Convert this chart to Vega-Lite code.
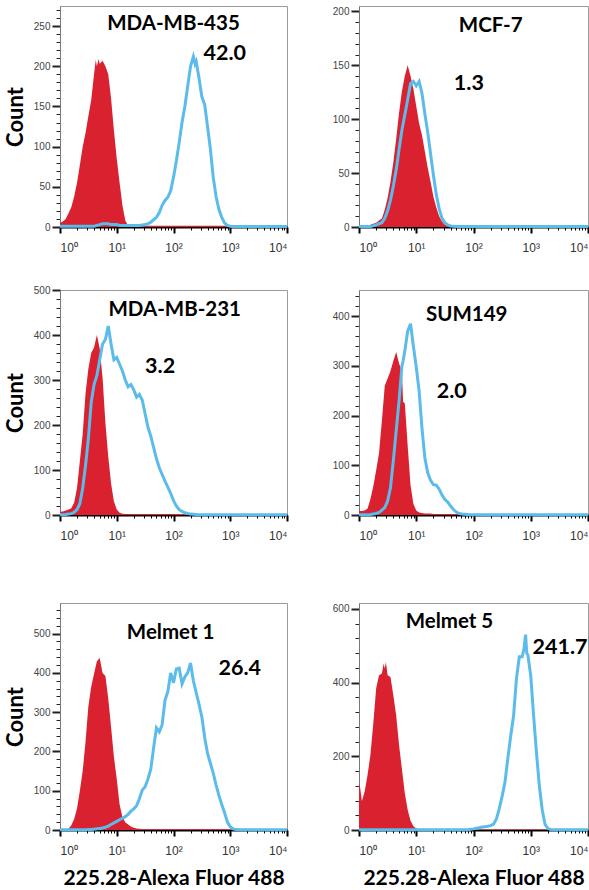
{
"$schema": "https://vega.github.io/schema/vega-lite/v6.json",
"background": "white",
"padding": {"left": 3, "top": 4, "right": 2, "bottom": 2},
"autosize": {"type": "pad"},
"config": {"view": {"stroke": "#9a9a9a", "strokeWidth": 1}, "axis": {"grid": false}},
"datasets": {
"hist": [
{"p":"MDA-MB-435","x":1,"r":5,"b":1},{"p":"MDA-MB-435","x":1.122,"r":7,"b":1},{"p":"MDA-MB-435","x":1.259,"r":10,"b":1},{"p":"MDA-MB-435","x":1.413,"r":17,"b":1},{"p":"MDA-MB-435","x":1.585,"r":25,"b":1},{"p":"MDA-MB-435","x":1.778,"r":38,"b":1},{"p":"MDA-MB-435","x":1.995,"r":55,"b":1},{"p":"MDA-MB-435","x":2.239,"r":77,"b":1},{"p":"MDA-MB-435","x":2.512,"r":100,"b":1},{"p":"MDA-MB-435","x":2.818,"r":117,"b":1},{"p":"MDA-MB-435","x":3.162,"r":138,"b":1},{"p":"MDA-MB-435","x":3.548,"r":158,"b":1},{"p":"MDA-MB-435","x":3.981,"r":190,"b":1},{"p":"MDA-MB-435","x":4.266,"r":208,"b":1.5},{"p":"MDA-MB-435","x":4.467,"r":200,"b":2},{"p":"MDA-MB-435","x":4.786,"r":209,"b":2.5},{"p":"MDA-MB-435","x":5.012,"r":203,"b":3},{"p":"MDA-MB-435","x":5.623,"r":207,"b":4},{"p":"MDA-MB-435","x":6.31,"r":200,"b":4},{"p":"MDA-MB-435","x":7.079,"r":190,"b":4},{"p":"MDA-MB-435","x":7.943,"r":160,"b":3},{"p":"MDA-MB-435","x":8.913,"r":120,"b":3},{"p":"MDA-MB-435","x":10,"r":85,"b":3},{"p":"MDA-MB-435","x":11.22,"r":55,"b":2},{"p":"MDA-MB-435","x":12.59,"r":27,"b":2},{"p":"MDA-MB-435","x":14.13,"r":8,"b":2},{"p":"MDA-MB-435","x":15.85,"r":2,"b":2},{"p":"MDA-MB-435","x":17.78,"r":1.5,"b":2},{"p":"MDA-MB-435","x":19.95,"r":1.5,"b":2},{"p":"MDA-MB-435","x":25.12,"r":1.5,"b":2},{"p":"MDA-MB-435","x":31.62,"r":1.5,"b":3},{"p":"MDA-MB-435","x":35.48,"r":1.5,"b":4},{"p":"MDA-MB-435","x":39.81,"r":1.5,"b":6},{"p":"MDA-MB-435","x":44.67,"r":1.5,"b":9},{"p":"MDA-MB-435","x":50.12,"r":1.5,"b":12},{"p":"MDA-MB-435","x":56.23,"r":1.5,"b":18},{"p":"MDA-MB-435","x":63.1,"r":1.5,"b":27},{"p":"MDA-MB-435","x":70.79,"r":1.5,"b":33},{"p":"MDA-MB-435","x":79.43,"r":1.5,"b":37},{"p":"MDA-MB-435","x":89.13,"r":1.5,"b":45},{"p":"MDA-MB-435","x":100,"r":1.5,"b":62},{"p":"MDA-MB-435","x":112.2,"r":1.5,"b":82},{"p":"MDA-MB-435","x":125.9,"r":1.5,"b":105},{"p":"MDA-MB-435","x":141.3,"r":1.5,"b":130},{"p":"MDA-MB-435","x":158.5,"r":1.5,"b":150},{"p":"MDA-MB-435","x":177.8,"r":1.5,"b":175},{"p":"MDA-MB-435","x":199.5,"r":1.5,"b":200},{"p":"MDA-MB-435","x":223.9,"r":1.5,"b":212},{"p":"MDA-MB-435","x":239.9,"r":1.5,"b":203},{"p":"MDA-MB-435","x":251.2,"r":1.5,"b":206},{"p":"MDA-MB-435","x":281.8,"r":1.5,"b":185},{"p":"MDA-MB-435","x":316.2,"r":1.5,"b":162},{"p":"MDA-MB-435","x":354.8,"r":1.5,"b":152},{"p":"MDA-MB-435","x":398.1,"r":1.5,"b":125},{"p":"MDA-MB-435","x":446.7,"r":1.5,"b":97},{"p":"MDA-MB-435","x":501.2,"r":1.5,"b":62},{"p":"MDA-MB-435","x":562.3,"r":1.5,"b":38},{"p":"MDA-MB-435","x":631,"r":1.5,"b":22},{"p":"MDA-MB-435","x":707.9,"r":1.5,"b":12},{"p":"MDA-MB-435","x":794.3,"r":1.5,"b":5},{"p":"MDA-MB-435","x":891.3,"r":1.5,"b":2},{"p":"MDA-MB-435","x":1000,"r":1,"b":1},{"p":"MDA-MB-435","x":1122,"r":0,"b":0.5},{"p":"MDA-MB-435","x":10000,"r":0,"b":0.5},

{"p":"MCF-7","x":1,"r":0,"b":0.5},{"p":"MCF-7","x":1.259,"r":0.5,"b":0.5},{"p":"MCF-7","x":1.413,"r":1,"b":0.5},{"p":"MCF-7","x":1.585,"r":2,"b":0.5},{"p":"MCF-7","x":1.778,"r":3,"b":1},{"p":"MCF-7","x":1.995,"r":4,"b":2},{"p":"MCF-7","x":2.239,"r":6,"b":3},{"p":"MCF-7","x":2.512,"r":8,"b":4},{"p":"MCF-7","x":2.818,"r":16,"b":8},{"p":"MCF-7","x":3.162,"r":27,"b":15},{"p":"MCF-7","x":3.548,"r":42,"b":25},{"p":"MCF-7","x":3.981,"r":60,"b":38},{"p":"MCF-7","x":4.467,"r":82,"b":53},{"p":"MCF-7","x":5.012,"r":106,"b":72},{"p":"MCF-7","x":5.623,"r":126,"b":90},{"p":"MCF-7","x":6.31,"r":140,"b":104},{"p":"MCF-7","x":7.079,"r":150,"b":118},{"p":"MCF-7","x":7.943,"r":140,"b":133},{"p":"MCF-7","x":8.913,"r":128,"b":135},{"p":"MCF-7","x":10,"r":112,"b":131},{"p":"MCF-7","x":11.22,"r":96,"b":135},{"p":"MCF-7","x":12.59,"r":85,"b":124},{"p":"MCF-7","x":14.13,"r":70,"b":105},{"p":"MCF-7","x":15.85,"r":55,"b":88},{"p":"MCF-7","x":17.78,"r":42,"b":68},{"p":"MCF-7","x":19.95,"r":28,"b":48},{"p":"MCF-7","x":22.39,"r":18,"b":30},{"p":"MCF-7","x":25.12,"r":10,"b":17},{"p":"MCF-7","x":28.18,"r":5,"b":8},{"p":"MCF-7","x":31.62,"r":2,"b":4},{"p":"MCF-7","x":35.48,"r":1,"b":2},{"p":"MCF-7","x":39.81,"r":0,"b":1},{"p":"MCF-7","x":50.12,"r":0,"b":0.5},{"p":"MCF-7","x":10000,"r":0,"b":0.5},

{"p":"MDA-MB-231","x":1,"r":7,"b":0.5},{"p":"MDA-MB-231","x":1.122,"r":8,"b":0.5},{"p":"MDA-MB-231","x":1.259,"r":10,"b":1},{"p":"MDA-MB-231","x":1.413,"r":12,"b":2},{"p":"MDA-MB-231","x":1.585,"r":15,"b":3},{"p":"MDA-MB-231","x":1.778,"r":28,"b":6},{"p":"MDA-MB-231","x":1.995,"r":60,"b":12},{"p":"MDA-MB-231","x":2.239,"r":120,"b":25},{"p":"MDA-MB-231","x":2.512,"r":180,"b":60},{"p":"MDA-MB-231","x":2.818,"r":270,"b":110},{"p":"MDA-MB-231","x":3.162,"r":325,"b":170},{"p":"MDA-MB-231","x":3.548,"r":360,"b":250},{"p":"MDA-MB-231","x":3.981,"r":372,"b":290},{"p":"MDA-MB-231","x":4.467,"r":400,"b":310},{"p":"MDA-MB-231","x":5.012,"r":370,"b":345},{"p":"MDA-MB-231","x":5.623,"r":305,"b":380},{"p":"MDA-MB-231","x":6.31,"r":205,"b":390},{"p":"MDA-MB-231","x":7.079,"r":130,"b":420},{"p":"MDA-MB-231","x":7.943,"r":70,"b":380},{"p":"MDA-MB-231","x":8.913,"r":30,"b":345},{"p":"MDA-MB-231","x":10,"r":12,"b":350},{"p":"MDA-MB-231","x":11.22,"r":5,"b":335},{"p":"MDA-MB-231","x":12.59,"r":3,"b":320},{"p":"MDA-MB-231","x":14.13,"r":2,"b":300},{"p":"MDA-MB-231","x":15.85,"r":2,"b":285},{"p":"MDA-MB-231","x":17.78,"r":2,"b":290},{"p":"MDA-MB-231","x":19.95,"r":2,"b":278},{"p":"MDA-MB-231","x":22.39,"r":2,"b":262},{"p":"MDA-MB-231","x":25.12,"r":2,"b":268},{"p":"MDA-MB-231","x":28.18,"r":2,"b":255},{"p":"MDA-MB-231","x":31.62,"r":2,"b":225},{"p":"MDA-MB-231","x":35.48,"r":2,"b":195},{"p":"MDA-MB-231","x":39.81,"r":2,"b":175},{"p":"MDA-MB-231","x":44.67,"r":2,"b":150},{"p":"MDA-MB-231","x":50.12,"r":2,"b":125},{"p":"MDA-MB-231","x":56.23,"r":2,"b":105},{"p":"MDA-MB-231","x":63.1,"r":2,"b":90},{"p":"MDA-MB-231","x":70.79,"r":2,"b":75},{"p":"MDA-MB-231","x":79.43,"r":2,"b":62},{"p":"MDA-MB-231","x":89.13,"r":2,"b":48},{"p":"MDA-MB-231","x":100,"r":2,"b":32},{"p":"MDA-MB-231","x":112.2,"r":2,"b":20},{"p":"MDA-MB-231","x":125.9,"r":2,"b":12},{"p":"MDA-MB-231","x":141.3,"r":2,"b":8},{"p":"MDA-MB-231","x":158.5,"r":1,"b":5},{"p":"MDA-MB-231","x":199.5,"r":0,"b":2},{"p":"MDA-MB-231","x":251.2,"r":0,"b":1},{"p":"MDA-MB-231","x":316.2,"r":0,"b":0.5},{"p":"MDA-MB-231","x":10000,"r":0,"b":0.5},

{"p":"SUM149","x":1,"r":8,"b":0.5},{"p":"SUM149","x":1.122,"r":8,"b":0.5},{"p":"SUM149","x":1.259,"r":9,"b":0.5},{"p":"SUM149","x":1.413,"r":13,"b":0.5},{"p":"SUM149","x":1.585,"r":32,"b":1},{"p":"SUM149","x":1.778,"r":58,"b":2},{"p":"SUM149","x":1.995,"r":90,"b":3},{"p":"SUM149","x":2.239,"r":125,"b":5},{"p":"SUM149","x":2.512,"r":190,"b":10},{"p":"SUM149","x":2.818,"r":260,"b":15},{"p":"SUM149","x":3.162,"r":275,"b":28},{"p":"SUM149","x":3.548,"r":290,"b":55},{"p":"SUM149","x":3.981,"r":310,"b":110},{"p":"SUM149","x":4.467,"r":328,"b":170},{"p":"SUM149","x":5.012,"r":305,"b":230},{"p":"SUM149","x":5.623,"r":290,"b":300},{"p":"SUM149","x":5.888,"r":228,"b":310},{"p":"SUM149","x":6.31,"r":225,"b":330},{"p":"SUM149","x":7.079,"r":140,"b":370},{"p":"SUM149","x":7.943,"r":60,"b":385},{"p":"SUM149","x":8.913,"r":22,"b":340},{"p":"SUM149","x":10,"r":9,"b":298},{"p":"SUM149","x":11.22,"r":5,"b":250},{"p":"SUM149","x":12.59,"r":4,"b":175},{"p":"SUM149","x":14.13,"r":3,"b":115},{"p":"SUM149","x":15.85,"r":3,"b":85},{"p":"SUM149","x":17.78,"r":3,"b":70},{"p":"SUM149","x":19.95,"r":2,"b":61},{"p":"SUM149","x":22.39,"r":2,"b":60},{"p":"SUM149","x":25.12,"r":2,"b":52},{"p":"SUM149","x":28.18,"r":2,"b":40},{"p":"SUM149","x":31.62,"r":2,"b":31},{"p":"SUM149","x":35.48,"r":2,"b":26},{"p":"SUM149","x":39.81,"r":2,"b":18},{"p":"SUM149","x":44.67,"r":2,"b":11},{"p":"SUM149","x":50.12,"r":2,"b":6},{"p":"SUM149","x":56.23,"r":2,"b":3},{"p":"SUM149","x":63.1,"r":2,"b":2},{"p":"SUM149","x":79.43,"r":2,"b":1},{"p":"SUM149","x":100,"r":1,"b":0.5},{"p":"SUM149","x":112.2,"r":0,"b":0.5},{"p":"SUM149","x":10000,"r":0,"b":0.5},

{"p":"Melmet 1","x":1,"r":1,"b":0.5},{"p":"Melmet 1","x":1.122,"r":1,"b":0.5},{"p":"Melmet 1","x":1.259,"r":2,"b":0.5},{"p":"Melmet 1","x":1.413,"r":3,"b":0.5},{"p":"Melmet 1","x":1.585,"r":12,"b":0.5},{"p":"Melmet 1","x":1.778,"r":28,"b":0.5},{"p":"Melmet 1","x":1.995,"r":55,"b":0.5},{"p":"Melmet 1","x":2.239,"r":100,"b":0.5},{"p":"Melmet 1","x":2.512,"r":150,"b":0.5},{"p":"Melmet 1","x":2.818,"r":225,"b":0.5},{"p":"Melmet 1","x":3.162,"r":315,"b":1},{"p":"Melmet 1","x":3.548,"r":365,"b":1},{"p":"Melmet 1","x":3.981,"r":398,"b":2},{"p":"Melmet 1","x":4.467,"r":430,"b":3},{"p":"Melmet 1","x":5.012,"r":438,"b":4},{"p":"Melmet 1","x":5.623,"r":400,"b":5},{"p":"Melmet 1","x":6.31,"r":392,"b":7},{"p":"Melmet 1","x":7.079,"r":335,"b":10},{"p":"Melmet 1","x":7.943,"r":262,"b":14},{"p":"Melmet 1","x":8.913,"r":186,"b":18},{"p":"Melmet 1","x":10,"r":130,"b":22},{"p":"Melmet 1","x":11.22,"r":65,"b":26},{"p":"Melmet 1","x":12.59,"r":33,"b":30},{"p":"Melmet 1","x":14.13,"r":20,"b":34},{"p":"Melmet 1","x":15.85,"r":14,"b":40},{"p":"Melmet 1","x":17.78,"r":9,"b":48},{"p":"Melmet 1","x":19.95,"r":6,"b":54},{"p":"Melmet 1","x":22.39,"r":4,"b":62},{"p":"Melmet 1","x":25.12,"r":3,"b":80},{"p":"Melmet 1","x":28.18,"r":2,"b":102},{"p":"Melmet 1","x":31.62,"r":2,"b":110},{"p":"Melmet 1","x":35.48,"r":2,"b":130},{"p":"Melmet 1","x":39.81,"r":2,"b":155},{"p":"Melmet 1","x":44.67,"r":2,"b":210},{"p":"Melmet 1","x":50.12,"r":2,"b":260},{"p":"Melmet 1","x":56.23,"r":2,"b":250},{"p":"Melmet 1","x":63.1,"r":2,"b":268},{"p":"Melmet 1","x":70.79,"r":2,"b":330},{"p":"Melmet 1","x":79.43,"r":2,"b":352},{"p":"Melmet 1","x":89.13,"r":2,"b":400},{"p":"Melmet 1","x":100,"r":2,"b":375},{"p":"Melmet 1","x":112.2,"r":2,"b":410},{"p":"Melmet 1","x":125.9,"r":2,"b":412},{"p":"Melmet 1","x":141.3,"r":2,"b":372},{"p":"Melmet 1","x":158.5,"r":2,"b":390},{"p":"Melmet 1","x":177.8,"r":2,"b":400},{"p":"Melmet 1","x":199.5,"r":2,"b":425},{"p":"Melmet 1","x":223.9,"r":2,"b":380},{"p":"Melmet 1","x":251.2,"r":2,"b":350},{"p":"Melmet 1","x":281.8,"r":2,"b":320},{"p":"Melmet 1","x":316.2,"r":2,"b":288},{"p":"Melmet 1","x":354.8,"r":2,"b":235},{"p":"Melmet 1","x":398.1,"r":2,"b":195},{"p":"Melmet 1","x":446.7,"r":2,"b":170},{"p":"Melmet 1","x":501.2,"r":2,"b":145},{"p":"Melmet 1","x":562.3,"r":2,"b":115},{"p":"Melmet 1","x":631,"r":2,"b":88},{"p":"Melmet 1","x":707.9,"r":2,"b":65},{"p":"Melmet 1","x":794.3,"r":2,"b":44},{"p":"Melmet 1","x":891.3,"r":2,"b":20},{"p":"Melmet 1","x":1000,"r":1,"b":8},{"p":"Melmet 1","x":1122,"r":0,"b":3},{"p":"Melmet 1","x":1259,"r":0,"b":1},{"p":"Melmet 1","x":1585,"r":0,"b":0.5},{"p":"Melmet 1","x":10000,"r":0,"b":0.5},

{"p":"Melmet 5","x":1,"r":125,"b":0.5},{"p":"Melmet 5","x":1.047,"r":115,"b":0.5},{"p":"Melmet 5","x":1.122,"r":78,"b":0.5},{"p":"Melmet 5","x":1.259,"r":105,"b":0.5},{"p":"Melmet 5","x":1.413,"r":150,"b":0.5},{"p":"Melmet 5","x":1.585,"r":205,"b":0.5},{"p":"Melmet 5","x":1.778,"r":290,"b":0.5},{"p":"Melmet 5","x":1.995,"r":385,"b":0.5},{"p":"Melmet 5","x":2.239,"r":420,"b":0.5},{"p":"Melmet 5","x":2.512,"r":425,"b":0.5},{"p":"Melmet 5","x":2.692,"r":452,"b":0.5},{"p":"Melmet 5","x":2.818,"r":438,"b":0.5},{"p":"Melmet 5","x":2.951,"r":455,"b":0.5},{"p":"Melmet 5","x":3.162,"r":420,"b":0.5},{"p":"Melmet 5","x":3.548,"r":415,"b":0.5},{"p":"Melmet 5","x":3.981,"r":365,"b":0.5},{"p":"Melmet 5","x":4.467,"r":310,"b":0.5},{"p":"Melmet 5","x":5.012,"r":230,"b":0.5},{"p":"Melmet 5","x":5.623,"r":165,"b":0.5},{"p":"Melmet 5","x":6.31,"r":100,"b":0.5},{"p":"Melmet 5","x":7.079,"r":55,"b":0.5},{"p":"Melmet 5","x":7.943,"r":25,"b":0.5},{"p":"Melmet 5","x":8.913,"r":10,"b":0.5},{"p":"Melmet 5","x":10,"r":4,"b":0.5},{"p":"Melmet 5","x":11.22,"r":2,"b":0.5},{"p":"Melmet 5","x":12.59,"r":1.5,"b":0.5},{"p":"Melmet 5","x":79.43,"r":1.5,"b":0.5},{"p":"Melmet 5","x":89.13,"r":1.5,"b":2},{"p":"Melmet 5","x":100,"r":1.5,"b":3},{"p":"Melmet 5","x":112.2,"r":1.5,"b":5},{"p":"Melmet 5","x":125.9,"r":1.5,"b":6},{"p":"Melmet 5","x":141.3,"r":1.5,"b":8},{"p":"Melmet 5","x":158.5,"r":1.5,"b":9},{"p":"Melmet 5","x":177.8,"r":1.5,"b":10},{"p":"Melmet 5","x":199.5,"r":1.5,"b":12},{"p":"Melmet 5","x":223.9,"r":1.5,"b":16},{"p":"Melmet 5","x":251.2,"r":1.5,"b":30},{"p":"Melmet 5","x":281.8,"r":1.5,"b":58},{"p":"Melmet 5","x":316.2,"r":1.5,"b":91},{"p":"Melmet 5","x":354.8,"r":1.5,"b":130},{"p":"Melmet 5","x":398.1,"r":1.5,"b":195},{"p":"Melmet 5","x":446.7,"r":1.5,"b":255},{"p":"Melmet 5","x":501.2,"r":1.5,"b":310},{"p":"Melmet 5","x":562.3,"r":1.5,"b":410},{"p":"Melmet 5","x":631,"r":1.5,"b":470},{"p":"Melmet 5","x":707.9,"r":1.5,"b":470},{"p":"Melmet 5","x":758.6,"r":1.5,"b":490},{"p":"Melmet 5","x":812.8,"r":1.5,"b":530},{"p":"Melmet 5","x":851.1,"r":1.5,"b":480},{"p":"Melmet 5","x":891.3,"r":1.5,"b":475},{"p":"Melmet 5","x":1000,"r":1.5,"b":418},{"p":"Melmet 5","x":1122,"r":1.5,"b":310},{"p":"Melmet 5","x":1259,"r":1.5,"b":210},{"p":"Melmet 5","x":1413,"r":1.5,"b":120},{"p":"Melmet 5","x":1585,"r":1.5,"b":55},{"p":"Melmet 5","x":1778,"r":1.5,"b":15},{"p":"Melmet 5","x":1995,"r":1,"b":4},{"p":"Melmet 5","x":2239,"r":0,"b":1},{"p":"Melmet 5","x":2512,"r":0,"b":0.5},{"p":"Melmet 5","x":10000,"r":0,"b":0.5}
]
},
"spacing": 30,
"vconcat": [
{"hconcat": [
{"width": 227, "height": 221,
 "layer": [
  {"data": {"name": "hist"}, "transform": [{"filter": "datum.p === 'MDA-MB-435'"}, {"fold": ["r"], "as": ["k", "v"]}], "mark": {"type": "area", "color": "#d9212f"},
   "encoding": {
    "x": {"field": "x", "type": "quantitative", "scale": {"type": "log", "domain": [1, 10000], "nice": false}, "axis": {"title": null, "values": [1,2,3,4,5,6,7,8,9,10,20,30,40,50,60,70,80,90,100,200,300,400,500,600,700,800,900,1000,2000,3000,4000,5000,6000,7000,8000,9000,10000], "labelExpr": "datum.value == 1 ? '10⁰' : datum.value == 10 ? '10¹' : datum.value == 100 ? '10²' : datum.value == 1000 ? '10³' : datum.value == 10000 ? '10⁴' : ''", "labelFlush": true, "labelOverlap": false, "labelFont": "Liberation Sans", "labelFontSize": 12, "labelColor": "#333", "labelPadding": 9, "domainColor": "black", "domainWidth": 2, "tickColor": "black", "tickSize": {"condition": {"test": "indexof([1,10,100,1000,10000], datum.value) >= 0", "value": 6}, "value": 3}, "tickWidth": {"condition": {"test": "indexof([1,10,100,1000,10000], datum.value) >= 0", "value": 2}, "value": 1}}},
    "y": {"field": "v", "type": "quantitative", "scale": {"domain": [0, 275], "nice": false}, "axis": {"title": "Count", "titleFont": "Lato", "titleFontSize": 22, "titleFontWeight": "bold", "titleColor": "black", "titlePadding": 6, "values": [0,10,20,30,40,50,60,70,80,90,100,110,120,130,140,150,160,170,180,190,200,210,220,230,240,250,260,270], "labelExpr": "datum.value % 50 === 0 ? datum.label : ''", "labelOverlap": false, "labelFont": "Liberation Sans", "labelFontSize": 10, "labelColor": "#444", "labelPadding": 2, "domainColor": "#777", "tickColor": "#222", "tickSize": {"condition": {"test": "datum.value % 50 === 0", "value": 8}, "value": 4}, "tickWidth": {"condition": {"test": "datum.value % 50 === 0", "value": 2}, "value": 1}}}
   }},
  {"data": {"name": "hist"}, "transform": [{"filter": "datum.p === 'MDA-MB-435'"}, {"fold": ["b"], "as": ["k", "v"]}], "mark": {"type": "line", "color": "#5bbbeb", "strokeWidth": 3},
   "encoding": {
    "x": {"field": "x", "type": "quantitative", "scale": {"type": "log", "domain": [1, 10000], "nice": false}, "axis": {"title": null, "values": [1,2,3,4,5,6,7,8,9,10,20,30,40,50,60,70,80,90,100,200,300,400,500,600,700,800,900,1000,2000,3000,4000,5000,6000,7000,8000,9000,10000], "labelExpr": "datum.value == 1 ? '10⁰' : datum.value == 10 ? '10¹' : datum.value == 100 ? '10²' : datum.value == 1000 ? '10³' : datum.value == 10000 ? '10⁴' : ''", "labelFlush": true, "labelOverlap": false, "labelFont": "Liberation Sans", "labelFontSize": 12, "labelColor": "#333", "labelPadding": 9, "domainColor": "black", "domainWidth": 2, "tickColor": "black", "tickSize": {"condition": {"test": "indexof([1,10,100,1000,10000], datum.value) >= 0", "value": 6}, "value": 3}, "tickWidth": {"condition": {"test": "indexof([1,10,100,1000,10000], datum.value) >= 0", "value": 2}, "value": 1}}},
    "y": {"field": "v", "type": "quantitative", "scale": {"domain": [0, 275], "nice": false}, "axis": {"title": "Count", "titleFont": "Lato", "titleFontSize": 22, "titleFontWeight": "bold", "titleColor": "black", "titlePadding": 6, "values": [0,10,20,30,40,50,60,70,80,90,100,110,120,130,140,150,160,170,180,190,200,210,220,230,240,250,260,270], "labelExpr": "datum.value % 50 === 0 ? datum.label : ''", "labelOverlap": false, "labelFont": "Liberation Sans", "labelFontSize": 10, "labelColor": "#444", "labelPadding": 2, "domainColor": "#777", "tickColor": "#222", "tickSize": {"condition": {"test": "datum.value % 50 === 0", "value": 8}, "value": 4}, "tickWidth": {"condition": {"test": "datum.value % 50 === 0", "value": 2}, "value": 1}}}
   }},
  {"data": {"values": [{"p": "MDA-MB-435", "num": "42.0"}]}, "mark": {"type": "text", "font": "Lato", "fontWeight": "bold", "fontSize": 20.5, "color": "black", "baseline": "middle"},
   "encoding": {"text": {"field": "p"},
    "x": {"datum": 100, "scale": {"type": "log", "domain": [1, 10000], "nice": false}, "axis": {"title": null, "values": [1,2,3,4,5,6,7,8,9,10,20,30,40,50,60,70,80,90,100,200,300,400,500,600,700,800,900,1000,2000,3000,4000,5000,6000,7000,8000,9000,10000], "labelExpr": "datum.value == 1 ? '10⁰' : datum.value == 10 ? '10¹' : datum.value == 100 ? '10²' : datum.value == 1000 ? '10³' : datum.value == 10000 ? '10⁴' : ''", "labelFlush": true, "labelOverlap": false, "labelFont": "Liberation Sans", "labelFontSize": 12, "labelColor": "#333", "labelPadding": 9, "domainColor": "black", "domainWidth": 2, "tickColor": "black", "tickSize": {"condition": {"test": "indexof([1,10,100,1000,10000], datum.value) >= 0", "value": 6}, "value": 3}, "tickWidth": {"condition": {"test": "indexof([1,10,100,1000,10000], datum.value) >= 0", "value": 2}, "value": 1}}},
    "y": {"datum": 252, "scale": {"domain": [0, 275], "nice": false}, "axis": {"title": "Count", "titleFont": "Lato", "titleFontSize": 22, "titleFontWeight": "bold", "titleColor": "black", "titlePadding": 6, "values": [0,10,20,30,40,50,60,70,80,90,100,110,120,130,140,150,160,170,180,190,200,210,220,230,240,250,260,270], "labelExpr": "datum.value % 50 === 0 ? datum.label : ''", "labelOverlap": false, "labelFont": "Liberation Sans", "labelFontSize": 10, "labelColor": "#444", "labelPadding": 2, "domainColor": "#777", "tickColor": "#222", "tickSize": {"condition": {"test": "datum.value % 50 === 0", "value": 8}, "value": 4}, "tickWidth": {"condition": {"test": "datum.value % 50 === 0", "value": 2}, "value": 1}}}
   }},
  {"data": {"values": [{"p": "MDA-MB-435", "num": "42.0"}]}, "mark": {"type": "text", "font": "Lato", "fontWeight": "bold", "fontSize": 21.5, "color": "black", "baseline": "middle"},
   "encoding": {"text": {"field": "num"},
    "x": {"datum": 800, "scale": {"type": "log", "domain": [1, 10000], "nice": false}, "axis": {"title": null, "values": [1,2,3,4,5,6,7,8,9,10,20,30,40,50,60,70,80,90,100,200,300,400,500,600,700,800,900,1000,2000,3000,4000,5000,6000,7000,8000,9000,10000], "labelExpr": "datum.value == 1 ? '10⁰' : datum.value == 10 ? '10¹' : datum.value == 100 ? '10²' : datum.value == 1000 ? '10³' : datum.value == 10000 ? '10⁴' : ''", "labelFlush": true, "labelOverlap": false, "labelFont": "Liberation Sans", "labelFontSize": 12, "labelColor": "#333", "labelPadding": 9, "domainColor": "black", "domainWidth": 2, "tickColor": "black", "tickSize": {"condition": {"test": "indexof([1,10,100,1000,10000], datum.value) >= 0", "value": 6}, "value": 3}, "tickWidth": {"condition": {"test": "indexof([1,10,100,1000,10000], datum.value) >= 0", "value": 2}, "value": 1}}},
    "y": {"datum": 215, "scale": {"domain": [0, 275], "nice": false}, "axis": {"title": "Count", "titleFont": "Lato", "titleFontSize": 22, "titleFontWeight": "bold", "titleColor": "black", "titlePadding": 6, "values": [0,10,20,30,40,50,60,70,80,90,100,110,120,130,140,150,160,170,180,190,200,210,220,230,240,250,260,270], "labelExpr": "datum.value % 50 === 0 ? datum.label : ''", "labelOverlap": false, "labelFont": "Liberation Sans", "labelFontSize": 10, "labelColor": "#444", "labelPadding": 2, "domainColor": "#777", "tickColor": "#222", "tickSize": {"condition": {"test": "datum.value % 50 === 0", "value": 8}, "value": 4}, "tickWidth": {"condition": {"test": "datum.value % 50 === 0", "value": 2}, "value": 1}}}
   }}
 ]},
{"width": 229, "height": 221,
 "layer": [
  {"data": {"name": "hist"}, "transform": [{"filter": "datum.p === 'MCF-7'"}, {"fold": ["r"], "as": ["k", "v"]}], "mark": {"type": "area", "color": "#d9212f"},
   "encoding": {
    "x": {"field": "x", "type": "quantitative", "scale": {"type": "log", "domain": [1, 10000], "nice": false}, "axis": {"title": null, "values": [1,2,3,4,5,6,7,8,9,10,20,30,40,50,60,70,80,90,100,200,300,400,500,600,700,800,900,1000,2000,3000,4000,5000,6000,7000,8000,9000,10000], "labelExpr": "datum.value == 1 ? '10⁰' : datum.value == 10 ? '10¹' : datum.value == 100 ? '10²' : datum.value == 1000 ? '10³' : datum.value == 10000 ? '10⁴' : ''", "labelFlush": true, "labelOverlap": false, "labelFont": "Liberation Sans", "labelFontSize": 12, "labelColor": "#333", "labelPadding": 9, "domainColor": "black", "domainWidth": 2, "tickColor": "black", "tickSize": {"condition": {"test": "indexof([1,10,100,1000,10000], datum.value) >= 0", "value": 6}, "value": 3}, "tickWidth": {"condition": {"test": "indexof([1,10,100,1000,10000], datum.value) >= 0", "value": 2}, "value": 1}}},
    "y": {"field": "v", "type": "quantitative", "scale": {"domain": [0, 205], "nice": false}, "axis": {"title": null, "values": [0,10,20,30,40,50,60,70,80,90,100,110,120,130,140,150,160,170,180,190,200], "labelExpr": "datum.value % 50 === 0 ? datum.label : ''", "labelOverlap": false, "labelFont": "Liberation Sans", "labelFontSize": 10, "labelColor": "#444", "labelPadding": 2, "domainColor": "#777", "tickColor": "#222", "tickSize": {"condition": {"test": "datum.value % 50 === 0", "value": 8}, "value": 4}, "tickWidth": {"condition": {"test": "datum.value % 50 === 0", "value": 2}, "value": 1}}}
   }},
  {"data": {"name": "hist"}, "transform": [{"filter": "datum.p === 'MCF-7'"}, {"fold": ["b"], "as": ["k", "v"]}], "mark": {"type": "line", "color": "#5bbbeb", "strokeWidth": 3},
   "encoding": {
    "x": {"field": "x", "type": "quantitative", "scale": {"type": "log", "domain": [1, 10000], "nice": false}, "axis": {"title": null, "values": [1,2,3,4,5,6,7,8,9,10,20,30,40,50,60,70,80,90,100,200,300,400,500,600,700,800,900,1000,2000,3000,4000,5000,6000,7000,8000,9000,10000], "labelExpr": "datum.value == 1 ? '10⁰' : datum.value == 10 ? '10¹' : datum.value == 100 ? '10²' : datum.value == 1000 ? '10³' : datum.value == 10000 ? '10⁴' : ''", "labelFlush": true, "labelOverlap": false, "labelFont": "Liberation Sans", "labelFontSize": 12, "labelColor": "#333", "labelPadding": 9, "domainColor": "black", "domainWidth": 2, "tickColor": "black", "tickSize": {"condition": {"test": "indexof([1,10,100,1000,10000], datum.value) >= 0", "value": 6}, "value": 3}, "tickWidth": {"condition": {"test": "indexof([1,10,100,1000,10000], datum.value) >= 0", "value": 2}, "value": 1}}},
    "y": {"field": "v", "type": "quantitative", "scale": {"domain": [0, 205], "nice": false}, "axis": {"title": null, "values": [0,10,20,30,40,50,60,70,80,90,100,110,120,130,140,150,160,170,180,190,200], "labelExpr": "datum.value % 50 === 0 ? datum.label : ''", "labelOverlap": false, "labelFont": "Liberation Sans", "labelFontSize": 10, "labelColor": "#444", "labelPadding": 2, "domainColor": "#777", "tickColor": "#222", "tickSize": {"condition": {"test": "datum.value % 50 === 0", "value": 8}, "value": 4}, "tickWidth": {"condition": {"test": "datum.value % 50 === 0", "value": 2}, "value": 1}}}
   }},
  {"data": {"values": [{"p": "MCF-7", "num": "1.3"}]}, "mark": {"type": "text", "font": "Lato", "fontWeight": "bold", "fontSize": 20.5, "color": "black", "baseline": "middle"},
   "encoding": {"text": {"field": "p"},
    "x": {"datum": 200, "scale": {"type": "log", "domain": [1, 10000], "nice": false}, "axis": {"title": null, "values": [1,2,3,4,5,6,7,8,9,10,20,30,40,50,60,70,80,90,100,200,300,400,500,600,700,800,900,1000,2000,3000,4000,5000,6000,7000,8000,9000,10000], "labelExpr": "datum.value == 1 ? '10⁰' : datum.value == 10 ? '10¹' : datum.value == 100 ? '10²' : datum.value == 1000 ? '10³' : datum.value == 10000 ? '10⁴' : ''", "labelFlush": true, "labelOverlap": false, "labelFont": "Liberation Sans", "labelFontSize": 12, "labelColor": "#333", "labelPadding": 9, "domainColor": "black", "domainWidth": 2, "tickColor": "black", "tickSize": {"condition": {"test": "indexof([1,10,100,1000,10000], datum.value) >= 0", "value": 6}, "value": 3}, "tickWidth": {"condition": {"test": "indexof([1,10,100,1000,10000], datum.value) >= 0", "value": 2}, "value": 1}}},
    "y": {"datum": 186, "scale": {"domain": [0, 205], "nice": false}, "axis": {"title": null, "values": [0,10,20,30,40,50,60,70,80,90,100,110,120,130,140,150,160,170,180,190,200], "labelExpr": "datum.value % 50 === 0 ? datum.label : ''", "labelOverlap": false, "labelFont": "Liberation Sans", "labelFontSize": 10, "labelColor": "#444", "labelPadding": 2, "domainColor": "#777", "tickColor": "#222", "tickSize": {"condition": {"test": "datum.value % 50 === 0", "value": 8}, "value": 4}, "tickWidth": {"condition": {"test": "datum.value % 50 === 0", "value": 2}, "value": 1}}}
   }},
  {"data": {"values": [{"p": "MCF-7", "num": "1.3"}]}, "mark": {"type": "text", "font": "Lato", "fontWeight": "bold", "fontSize": 21.5, "color": "black", "baseline": "middle"},
   "encoding": {"text": {"field": "num"},
    "x": {"datum": 83, "scale": {"type": "log", "domain": [1, 10000], "nice": false}, "axis": {"title": null, "values": [1,2,3,4,5,6,7,8,9,10,20,30,40,50,60,70,80,90,100,200,300,400,500,600,700,800,900,1000,2000,3000,4000,5000,6000,7000,8000,9000,10000], "labelExpr": "datum.value == 1 ? '10⁰' : datum.value == 10 ? '10¹' : datum.value == 100 ? '10²' : datum.value == 1000 ? '10³' : datum.value == 10000 ? '10⁴' : ''", "labelFlush": true, "labelOverlap": false, "labelFont": "Liberation Sans", "labelFontSize": 12, "labelColor": "#333", "labelPadding": 9, "domainColor": "black", "domainWidth": 2, "tickColor": "black", "tickSize": {"condition": {"test": "indexof([1,10,100,1000,10000], datum.value) >= 0", "value": 6}, "value": 3}, "tickWidth": {"condition": {"test": "indexof([1,10,100,1000,10000], datum.value) >= 0", "value": 2}, "value": 1}}},
    "y": {"datum": 133, "scale": {"domain": [0, 205], "nice": false}, "axis": {"title": null, "values": [0,10,20,30,40,50,60,70,80,90,100,110,120,130,140,150,160,170,180,190,200], "labelExpr": "datum.value % 50 === 0 ? datum.label : ''", "labelOverlap": false, "labelFont": "Liberation Sans", "labelFontSize": 10, "labelColor": "#444", "labelPadding": 2, "domainColor": "#777", "tickColor": "#222", "tickSize": {"condition": {"test": "datum.value % 50 === 0", "value": 8}, "value": 4}, "tickWidth": {"condition": {"test": "datum.value % 50 === 0", "value": 2}, "value": 1}}}
   }}
 ]}
], "spacing": 37},
{"vconcat": [
{"hconcat": [
{"width": 227, "height": 225,
 "layer": [
  {"data": {"name": "hist"}, "transform": [{"filter": "datum.p === 'MDA-MB-231'"}, {"fold": ["r"], "as": ["k", "v"]}], "mark": {"type": "area", "color": "#d9212f"},
   "encoding": {
    "x": {"field": "x", "type": "quantitative", "scale": {"type": "log", "domain": [1, 10000], "nice": false}, "axis": {"title": null, "values": [1,2,3,4,5,6,7,8,9,10,20,30,40,50,60,70,80,90,100,200,300,400,500,600,700,800,900,1000,2000,3000,4000,5000,6000,7000,8000,9000,10000], "labelExpr": "datum.value == 1 ? '10⁰' : datum.value == 10 ? '10¹' : datum.value == 100 ? '10²' : datum.value == 1000 ? '10³' : datum.value == 10000 ? '10⁴' : ''", "labelFlush": true, "labelOverlap": false, "labelFont": "Liberation Sans", "labelFontSize": 12, "labelColor": "#333", "labelPadding": 9, "domainColor": "black", "domainWidth": 2, "tickColor": "black", "tickSize": {"condition": {"test": "indexof([1,10,100,1000,10000], datum.value) >= 0", "value": 6}, "value": 3}, "tickWidth": {"condition": {"test": "indexof([1,10,100,1000,10000], datum.value) >= 0", "value": 2}, "value": 1}}},
    "y": {"field": "v", "type": "quantitative", "scale": {"domain": [0, 500], "nice": false}, "axis": {"title": "Count", "titleFont": "Lato", "titleFontSize": 22, "titleFontWeight": "bold", "titleColor": "black", "titlePadding": 6, "values": [0,20,40,60,80,100,120,140,160,180,200,220,240,260,280,300,320,340,360,380,400,420,440,460,480,500], "labelExpr": "datum.value % 100 === 0 ? datum.label : ''", "labelOverlap": false, "labelFont": "Liberation Sans", "labelFontSize": 10, "labelColor": "#444", "labelPadding": 2, "domainColor": "#777", "tickColor": "#222", "tickSize": {"condition": {"test": "datum.value % 100 === 0", "value": 8}, "value": 4}, "tickWidth": {"condition": {"test": "datum.value % 100 === 0", "value": 2}, "value": 1}}}
   }},
  {"data": {"name": "hist"}, "transform": [{"filter": "datum.p === 'MDA-MB-231'"}, {"fold": ["b"], "as": ["k", "v"]}], "mark": {"type": "line", "color": "#5bbbeb", "strokeWidth": 3},
   "encoding": {
    "x": {"field": "x", "type": "quantitative", "scale": {"type": "log", "domain": [1, 10000], "nice": false}, "axis": {"title": null, "values": [1,2,3,4,5,6,7,8,9,10,20,30,40,50,60,70,80,90,100,200,300,400,500,600,700,800,900,1000,2000,3000,4000,5000,6000,7000,8000,9000,10000], "labelExpr": "datum.value == 1 ? '10⁰' : datum.value == 10 ? '10¹' : datum.value == 100 ? '10²' : datum.value == 1000 ? '10³' : datum.value == 10000 ? '10⁴' : ''", "labelFlush": true, "labelOverlap": false, "labelFont": "Liberation Sans", "labelFontSize": 12, "labelColor": "#333", "labelPadding": 9, "domainColor": "black", "domainWidth": 2, "tickColor": "black", "tickSize": {"condition": {"test": "indexof([1,10,100,1000,10000], datum.value) >= 0", "value": 6}, "value": 3}, "tickWidth": {"condition": {"test": "indexof([1,10,100,1000,10000], datum.value) >= 0", "value": 2}, "value": 1}}},
    "y": {"field": "v", "type": "quantitative", "scale": {"domain": [0, 500], "nice": false}, "axis": {"title": "Count", "titleFont": "Lato", "titleFontSize": 22, "titleFontWeight": "bold", "titleColor": "black", "titlePadding": 6, "values": [0,20,40,60,80,100,120,140,160,180,200,220,240,260,280,300,320,340,360,380,400,420,440,460,480,500], "labelExpr": "datum.value % 100 === 0 ? datum.label : ''", "labelOverlap": false, "labelFont": "Liberation Sans", "labelFontSize": 10, "labelColor": "#444", "labelPadding": 2, "domainColor": "#777", "tickColor": "#222", "tickSize": {"condition": {"test": "datum.value % 100 === 0", "value": 8}, "value": 4}, "tickWidth": {"condition": {"test": "datum.value % 100 === 0", "value": 2}, "value": 1}}}
   }},
  {"data": {"values": [{"p": "MDA-MB-231", "num": "3.2"}]}, "mark": {"type": "text", "font": "Lato", "fontWeight": "bold", "fontSize": 20.5, "color": "black", "baseline": "middle"},
   "encoding": {"text": {"field": "p"},
    "x": {"datum": 105, "scale": {"type": "log", "domain": [1, 10000], "nice": false}, "axis": {"title": null, "values": [1,2,3,4,5,6,7,8,9,10,20,30,40,50,60,70,80,90,100,200,300,400,500,600,700,800,900,1000,2000,3000,4000,5000,6000,7000,8000,9000,10000], "labelExpr": "datum.value == 1 ? '10⁰' : datum.value == 10 ? '10¹' : datum.value == 100 ? '10²' : datum.value == 1000 ? '10³' : datum.value == 10000 ? '10⁴' : ''", "labelFlush": true, "labelOverlap": false, "labelFont": "Liberation Sans", "labelFontSize": 12, "labelColor": "#333", "labelPadding": 9, "domainColor": "black", "domainWidth": 2, "tickColor": "black", "tickSize": {"condition": {"test": "indexof([1,10,100,1000,10000], datum.value) >= 0", "value": 6}, "value": 3}, "tickWidth": {"condition": {"test": "indexof([1,10,100,1000,10000], datum.value) >= 0", "value": 2}, "value": 1}}},
    "y": {"datum": 456, "scale": {"domain": [0, 500], "nice": false}, "axis": {"title": "Count", "titleFont": "Lato", "titleFontSize": 22, "titleFontWeight": "bold", "titleColor": "black", "titlePadding": 6, "values": [0,20,40,60,80,100,120,140,160,180,200,220,240,260,280,300,320,340,360,380,400,420,440,460,480,500], "labelExpr": "datum.value % 100 === 0 ? datum.label : ''", "labelOverlap": false, "labelFont": "Liberation Sans", "labelFontSize": 10, "labelColor": "#444", "labelPadding": 2, "domainColor": "#777", "tickColor": "#222", "tickSize": {"condition": {"test": "datum.value % 100 === 0", "value": 8}, "value": 4}, "tickWidth": {"condition": {"test": "datum.value % 100 === 0", "value": 2}, "value": 1}}}
   }},
  {"data": {"values": [{"p": "MDA-MB-231", "num": "3.2"}]}, "mark": {"type": "text", "font": "Lato", "fontWeight": "bold", "fontSize": 21.5, "color": "black", "baseline": "middle"},
   "encoding": {"text": {"field": "num"},
    "x": {"datum": 58, "scale": {"type": "log", "domain": [1, 10000], "nice": false}, "axis": {"title": null, "values": [1,2,3,4,5,6,7,8,9,10,20,30,40,50,60,70,80,90,100,200,300,400,500,600,700,800,900,1000,2000,3000,4000,5000,6000,7000,8000,9000,10000], "labelExpr": "datum.value == 1 ? '10⁰' : datum.value == 10 ? '10¹' : datum.value == 100 ? '10²' : datum.value == 1000 ? '10³' : datum.value == 10000 ? '10⁴' : ''", "labelFlush": true, "labelOverlap": false, "labelFont": "Liberation Sans", "labelFontSize": 12, "labelColor": "#333", "labelPadding": 9, "domainColor": "black", "domainWidth": 2, "tickColor": "black", "tickSize": {"condition": {"test": "indexof([1,10,100,1000,10000], datum.value) >= 0", "value": 6}, "value": 3}, "tickWidth": {"condition": {"test": "indexof([1,10,100,1000,10000], datum.value) >= 0", "value": 2}, "value": 1}}},
    "y": {"datum": 330, "scale": {"domain": [0, 500], "nice": false}, "axis": {"title": "Count", "titleFont": "Lato", "titleFontSize": 22, "titleFontWeight": "bold", "titleColor": "black", "titlePadding": 6, "values": [0,20,40,60,80,100,120,140,160,180,200,220,240,260,280,300,320,340,360,380,400,420,440,460,480,500], "labelExpr": "datum.value % 100 === 0 ? datum.label : ''", "labelOverlap": false, "labelFont": "Liberation Sans", "labelFontSize": 10, "labelColor": "#444", "labelPadding": 2, "domainColor": "#777", "tickColor": "#222", "tickSize": {"condition": {"test": "datum.value % 100 === 0", "value": 8}, "value": 4}, "tickWidth": {"condition": {"test": "datum.value % 100 === 0", "value": 2}, "value": 1}}}
   }}
 ]},
{"width": 229, "height": 225,
 "layer": [
  {"data": {"name": "hist"}, "transform": [{"filter": "datum.p === 'SUM149'"}, {"fold": ["r"], "as": ["k", "v"]}], "mark": {"type": "area", "color": "#d9212f"},
   "encoding": {
    "x": {"field": "x", "type": "quantitative", "scale": {"type": "log", "domain": [1, 10000], "nice": false}, "axis": {"title": null, "values": [1,2,3,4,5,6,7,8,9,10,20,30,40,50,60,70,80,90,100,200,300,400,500,600,700,800,900,1000,2000,3000,4000,5000,6000,7000,8000,9000,10000], "labelExpr": "datum.value == 1 ? '10⁰' : datum.value == 10 ? '10¹' : datum.value == 100 ? '10²' : datum.value == 1000 ? '10³' : datum.value == 10000 ? '10⁴' : ''", "labelFlush": true, "labelOverlap": false, "labelFont": "Liberation Sans", "labelFontSize": 12, "labelColor": "#333", "labelPadding": 9, "domainColor": "black", "domainWidth": 2, "tickColor": "black", "tickSize": {"condition": {"test": "indexof([1,10,100,1000,10000], datum.value) >= 0", "value": 6}, "value": 3}, "tickWidth": {"condition": {"test": "indexof([1,10,100,1000,10000], datum.value) >= 0", "value": 2}, "value": 1}}},
    "y": {"field": "v", "type": "quantitative", "scale": {"domain": [0, 453], "nice": false}, "axis": {"title": null, "values": [0,20,40,60,80,100,120,140,160,180,200,220,240,260,280,300,320,340,360,380,400,420,440], "labelExpr": "datum.value % 100 === 0 ? datum.label : ''", "labelOverlap": false, "labelFont": "Liberation Sans", "labelFontSize": 10, "labelColor": "#444", "labelPadding": 2, "domainColor": "#777", "tickColor": "#222", "tickSize": {"condition": {"test": "datum.value % 100 === 0", "value": 8}, "value": 4}, "tickWidth": {"condition": {"test": "datum.value % 100 === 0", "value": 2}, "value": 1}}}
   }},
  {"data": {"name": "hist"}, "transform": [{"filter": "datum.p === 'SUM149'"}, {"fold": ["b"], "as": ["k", "v"]}], "mark": {"type": "line", "color": "#5bbbeb", "strokeWidth": 3},
   "encoding": {
    "x": {"field": "x", "type": "quantitative", "scale": {"type": "log", "domain": [1, 10000], "nice": false}, "axis": {"title": null, "values": [1,2,3,4,5,6,7,8,9,10,20,30,40,50,60,70,80,90,100,200,300,400,500,600,700,800,900,1000,2000,3000,4000,5000,6000,7000,8000,9000,10000], "labelExpr": "datum.value == 1 ? '10⁰' : datum.value == 10 ? '10¹' : datum.value == 100 ? '10²' : datum.value == 1000 ? '10³' : datum.value == 10000 ? '10⁴' : ''", "labelFlush": true, "labelOverlap": false, "labelFont": "Liberation Sans", "labelFontSize": 12, "labelColor": "#333", "labelPadding": 9, "domainColor": "black", "domainWidth": 2, "tickColor": "black", "tickSize": {"condition": {"test": "indexof([1,10,100,1000,10000], datum.value) >= 0", "value": 6}, "value": 3}, "tickWidth": {"condition": {"test": "indexof([1,10,100,1000,10000], datum.value) >= 0", "value": 2}, "value": 1}}},
    "y": {"field": "v", "type": "quantitative", "scale": {"domain": [0, 453], "nice": false}, "axis": {"title": null, "values": [0,20,40,60,80,100,120,140,160,180,200,220,240,260,280,300,320,340,360,380,400,420,440], "labelExpr": "datum.value % 100 === 0 ? datum.label : ''", "labelOverlap": false, "labelFont": "Liberation Sans", "labelFontSize": 10, "labelColor": "#444", "labelPadding": 2, "domainColor": "#777", "tickColor": "#222", "tickSize": {"condition": {"test": "datum.value % 100 === 0", "value": 8}, "value": 4}, "tickWidth": {"condition": {"test": "datum.value % 100 === 0", "value": 2}, "value": 1}}}
   }},
  {"data": {"values": [{"p": "SUM149", "num": "2.0"}]}, "mark": {"type": "text", "font": "Lato", "fontWeight": "bold", "fontSize": 20.5, "color": "black", "baseline": "middle"},
   "encoding": {"text": {"field": "p"},
    "x": {"datum": 76, "scale": {"type": "log", "domain": [1, 10000], "nice": false}, "axis": {"title": null, "values": [1,2,3,4,5,6,7,8,9,10,20,30,40,50,60,70,80,90,100,200,300,400,500,600,700,800,900,1000,2000,3000,4000,5000,6000,7000,8000,9000,10000], "labelExpr": "datum.value == 1 ? '10⁰' : datum.value == 10 ? '10¹' : datum.value == 100 ? '10²' : datum.value == 1000 ? '10³' : datum.value == 10000 ? '10⁴' : ''", "labelFlush": true, "labelOverlap": false, "labelFont": "Liberation Sans", "labelFontSize": 12, "labelColor": "#333", "labelPadding": 9, "domainColor": "black", "domainWidth": 2, "tickColor": "black", "tickSize": {"condition": {"test": "indexof([1,10,100,1000,10000], datum.value) >= 0", "value": 6}, "value": 3}, "tickWidth": {"condition": {"test": "indexof([1,10,100,1000,10000], datum.value) >= 0", "value": 2}, "value": 1}}},
    "y": {"datum": 403, "scale": {"domain": [0, 453], "nice": false}, "axis": {"title": null, "values": [0,20,40,60,80,100,120,140,160,180,200,220,240,260,280,300,320,340,360,380,400,420,440], "labelExpr": "datum.value % 100 === 0 ? datum.label : ''", "labelOverlap": false, "labelFont": "Liberation Sans", "labelFontSize": 10, "labelColor": "#444", "labelPadding": 2, "domainColor": "#777", "tickColor": "#222", "tickSize": {"condition": {"test": "datum.value % 100 === 0", "value": 8}, "value": 4}, "tickWidth": {"condition": {"test": "datum.value % 100 === 0", "value": 2}, "value": 1}}}
   }},
  {"data": {"values": [{"p": "SUM149", "num": "2.0"}]}, "mark": {"type": "text", "font": "Lato", "fontWeight": "bold", "fontSize": 21.5, "color": "black", "baseline": "middle"},
   "encoding": {"text": {"field": "num"},
    "x": {"datum": 41.6, "scale": {"type": "log", "domain": [1, 10000], "nice": false}, "axis": {"title": null, "values": [1,2,3,4,5,6,7,8,9,10,20,30,40,50,60,70,80,90,100,200,300,400,500,600,700,800,900,1000,2000,3000,4000,5000,6000,7000,8000,9000,10000], "labelExpr": "datum.value == 1 ? '10⁰' : datum.value == 10 ? '10¹' : datum.value == 100 ? '10²' : datum.value == 1000 ? '10³' : datum.value == 10000 ? '10⁴' : ''", "labelFlush": true, "labelOverlap": false, "labelFont": "Liberation Sans", "labelFontSize": 12, "labelColor": "#333", "labelPadding": 9, "domainColor": "black", "domainWidth": 2, "tickColor": "black", "tickSize": {"condition": {"test": "indexof([1,10,100,1000,10000], datum.value) >= 0", "value": 6}, "value": 3}, "tickWidth": {"condition": {"test": "indexof([1,10,100,1000,10000], datum.value) >= 0", "value": 2}, "value": 1}}},
    "y": {"datum": 247, "scale": {"domain": [0, 453], "nice": false}, "axis": {"title": null, "values": [0,20,40,60,80,100,120,140,160,180,200,220,240,260,280,300,320,340,360,380,400,420,440], "labelExpr": "datum.value % 100 === 0 ? datum.label : ''", "labelOverlap": false, "labelFont": "Liberation Sans", "labelFontSize": 10, "labelColor": "#444", "labelPadding": 2, "domainColor": "#777", "tickColor": "#222", "tickSize": {"condition": {"test": "datum.value % 100 === 0", "value": 8}, "value": 4}, "tickWidth": {"condition": {"test": "datum.value % 100 === 0", "value": 2}, "value": 1}}}
   }}
 ]}
], "spacing": 37},
{"hconcat": [
{"width": 227, "height": 227,
 "layer": [
  {"data": {"name": "hist"}, "transform": [{"filter": "datum.p === 'Melmet 1'"}, {"fold": ["r"], "as": ["k", "v"]}], "mark": {"type": "area", "color": "#d9212f"},
   "encoding": {
    "x": {"field": "x", "type": "quantitative", "scale": {"type": "log", "domain": [1, 10000], "nice": false}, "axis": {"title": "225.28-Alexa Fluor 488", "titleFont": "Lato", "titleFontSize": 21, "titleFontWeight": "bold", "titleColor": "black", "titlePadding": 11, "values": [1,2,3,4,5,6,7,8,9,10,20,30,40,50,60,70,80,90,100,200,300,400,500,600,700,800,900,1000,2000,3000,4000,5000,6000,7000,8000,9000,10000], "labelExpr": "datum.value == 1 ? '10⁰' : datum.value == 10 ? '10¹' : datum.value == 100 ? '10²' : datum.value == 1000 ? '10³' : datum.value == 10000 ? '10⁴' : ''", "labelFlush": true, "labelOverlap": false, "labelFont": "Liberation Sans", "labelFontSize": 12, "labelColor": "#333", "labelPadding": 9, "domainColor": "black", "domainWidth": 2, "tickColor": "black", "tickSize": {"condition": {"test": "indexof([1,10,100,1000,10000], datum.value) >= 0", "value": 6}, "value": 3}, "tickWidth": {"condition": {"test": "indexof([1,10,100,1000,10000], datum.value) >= 0", "value": 2}, "value": 1}}},
    "y": {"field": "v", "type": "quantitative", "scale": {"domain": [0, 578], "nice": false}, "axis": {"title": "Count", "titleFont": "Lato", "titleFontSize": 22, "titleFontWeight": "bold", "titleColor": "black", "titlePadding": 6, "values": [0,20,40,60,80,100,120,140,160,180,200,220,240,260,280,300,320,340,360,380,400,420,440,460,480,500,520,540,560], "labelExpr": "datum.value % 100 === 0 ? datum.label : ''", "labelOverlap": false, "labelFont": "Liberation Sans", "labelFontSize": 10, "labelColor": "#444", "labelPadding": 2, "domainColor": "#777", "tickColor": "#222", "tickSize": {"condition": {"test": "datum.value % 100 === 0", "value": 8}, "value": 4}, "tickWidth": {"condition": {"test": "datum.value % 100 === 0", "value": 2}, "value": 1}}}
   }},
  {"data": {"name": "hist"}, "transform": [{"filter": "datum.p === 'Melmet 1'"}, {"fold": ["b"], "as": ["k", "v"]}], "mark": {"type": "line", "color": "#5bbbeb", "strokeWidth": 3},
   "encoding": {
    "x": {"field": "x", "type": "quantitative", "scale": {"type": "log", "domain": [1, 10000], "nice": false}, "axis": {"title": "225.28-Alexa Fluor 488", "titleFont": "Lato", "titleFontSize": 21, "titleFontWeight": "bold", "titleColor": "black", "titlePadding": 11, "values": [1,2,3,4,5,6,7,8,9,10,20,30,40,50,60,70,80,90,100,200,300,400,500,600,700,800,900,1000,2000,3000,4000,5000,6000,7000,8000,9000,10000], "labelExpr": "datum.value == 1 ? '10⁰' : datum.value == 10 ? '10¹' : datum.value == 100 ? '10²' : datum.value == 1000 ? '10³' : datum.value == 10000 ? '10⁴' : ''", "labelFlush": true, "labelOverlap": false, "labelFont": "Liberation Sans", "labelFontSize": 12, "labelColor": "#333", "labelPadding": 9, "domainColor": "black", "domainWidth": 2, "tickColor": "black", "tickSize": {"condition": {"test": "indexof([1,10,100,1000,10000], datum.value) >= 0", "value": 6}, "value": 3}, "tickWidth": {"condition": {"test": "indexof([1,10,100,1000,10000], datum.value) >= 0", "value": 2}, "value": 1}}},
    "y": {"field": "v", "type": "quantitative", "scale": {"domain": [0, 578], "nice": false}, "axis": {"title": "Count", "titleFont": "Lato", "titleFontSize": 22, "titleFontWeight": "bold", "titleColor": "black", "titlePadding": 6, "values": [0,20,40,60,80,100,120,140,160,180,200,220,240,260,280,300,320,340,360,380,400,420,440,460,480,500,520,540,560], "labelExpr": "datum.value % 100 === 0 ? datum.label : ''", "labelOverlap": false, "labelFont": "Liberation Sans", "labelFontSize": 10, "labelColor": "#444", "labelPadding": 2, "domainColor": "#777", "tickColor": "#222", "tickSize": {"condition": {"test": "datum.value % 100 === 0", "value": 8}, "value": 4}, "tickWidth": {"condition": {"test": "datum.value % 100 === 0", "value": 2}, "value": 1}}}
   }},
  {"data": {"values": [{"p": "Melmet 1", "num": "26.4"}]}, "mark": {"type": "text", "font": "Lato", "fontWeight": "bold", "fontSize": 20.5, "color": "black", "baseline": "middle"},
   "encoding": {"text": {"field": "p"},
    "x": {"datum": 89, "scale": {"type": "log", "domain": [1, 10000], "nice": false}, "axis": {"title": "225.28-Alexa Fluor 488", "titleFont": "Lato", "titleFontSize": 21, "titleFontWeight": "bold", "titleColor": "black", "titlePadding": 11, "values": [1,2,3,4,5,6,7,8,9,10,20,30,40,50,60,70,80,90,100,200,300,400,500,600,700,800,900,1000,2000,3000,4000,5000,6000,7000,8000,9000,10000], "labelExpr": "datum.value == 1 ? '10⁰' : datum.value == 10 ? '10¹' : datum.value == 100 ? '10²' : datum.value == 1000 ? '10³' : datum.value == 10000 ? '10⁴' : ''", "labelFlush": true, "labelOverlap": false, "labelFont": "Liberation Sans", "labelFontSize": 12, "labelColor": "#333", "labelPadding": 9, "domainColor": "black", "domainWidth": 2, "tickColor": "black", "tickSize": {"condition": {"test": "indexof([1,10,100,1000,10000], datum.value) >= 0", "value": 6}, "value": 3}, "tickWidth": {"condition": {"test": "indexof([1,10,100,1000,10000], datum.value) >= 0", "value": 2}, "value": 1}}},
    "y": {"datum": 502, "scale": {"domain": [0, 578], "nice": false}, "axis": {"title": "Count", "titleFont": "Lato", "titleFontSize": 22, "titleFontWeight": "bold", "titleColor": "black", "titlePadding": 6, "values": [0,20,40,60,80,100,120,140,160,180,200,220,240,260,280,300,320,340,360,380,400,420,440,460,480,500,520,540,560], "labelExpr": "datum.value % 100 === 0 ? datum.label : ''", "labelOverlap": false, "labelFont": "Liberation Sans", "labelFontSize": 10, "labelColor": "#444", "labelPadding": 2, "domainColor": "#777", "tickColor": "#222", "tickSize": {"condition": {"test": "datum.value % 100 === 0", "value": 8}, "value": 4}, "tickWidth": {"condition": {"test": "datum.value % 100 === 0", "value": 2}, "value": 1}}}
   }},
  {"data": {"values": [{"p": "Melmet 1", "num": "26.4"}]}, "mark": {"type": "text", "font": "Lato", "fontWeight": "bold", "fontSize": 21.5, "color": "black", "baseline": "middle"},
   "encoding": {"text": {"field": "num"},
    "x": {"datum": 1470, "scale": {"type": "log", "domain": [1, 10000], "nice": false}, "axis": {"title": "225.28-Alexa Fluor 488", "titleFont": "Lato", "titleFontSize": 21, "titleFontWeight": "bold", "titleColor": "black", "titlePadding": 11, "values": [1,2,3,4,5,6,7,8,9,10,20,30,40,50,60,70,80,90,100,200,300,400,500,600,700,800,900,1000,2000,3000,4000,5000,6000,7000,8000,9000,10000], "labelExpr": "datum.value == 1 ? '10⁰' : datum.value == 10 ? '10¹' : datum.value == 100 ? '10²' : datum.value == 1000 ? '10³' : datum.value == 10000 ? '10⁴' : ''", "labelFlush": true, "labelOverlap": false, "labelFont": "Liberation Sans", "labelFontSize": 12, "labelColor": "#333", "labelPadding": 9, "domainColor": "black", "domainWidth": 2, "tickColor": "black", "tickSize": {"condition": {"test": "indexof([1,10,100,1000,10000], datum.value) >= 0", "value": 6}, "value": 3}, "tickWidth": {"condition": {"test": "indexof([1,10,100,1000,10000], datum.value) >= 0", "value": 2}, "value": 1}}},
    "y": {"datum": 411, "scale": {"domain": [0, 578], "nice": false}, "axis": {"title": "Count", "titleFont": "Lato", "titleFontSize": 22, "titleFontWeight": "bold", "titleColor": "black", "titlePadding": 6, "values": [0,20,40,60,80,100,120,140,160,180,200,220,240,260,280,300,320,340,360,380,400,420,440,460,480,500,520,540,560], "labelExpr": "datum.value % 100 === 0 ? datum.label : ''", "labelOverlap": false, "labelFont": "Liberation Sans", "labelFontSize": 10, "labelColor": "#444", "labelPadding": 2, "domainColor": "#777", "tickColor": "#222", "tickSize": {"condition": {"test": "datum.value % 100 === 0", "value": 8}, "value": 4}, "tickWidth": {"condition": {"test": "datum.value % 100 === 0", "value": 2}, "value": 1}}}
   }}
 ]},
{"width": 229, "height": 227,
 "layer": [
  {"data": {"name": "hist"}, "transform": [{"filter": "datum.p === 'Melmet 5'"}, {"fold": ["r"], "as": ["k", "v"]}], "mark": {"type": "area", "color": "#d9212f"},
   "encoding": {
    "x": {"field": "x", "type": "quantitative", "scale": {"type": "log", "domain": [1, 10000], "nice": false}, "axis": {"title": "225.28-Alexa Fluor 488", "titleFont": "Lato", "titleFontSize": 21, "titleFontWeight": "bold", "titleColor": "black", "titlePadding": 11, "values": [1,2,3,4,5,6,7,8,9,10,20,30,40,50,60,70,80,90,100,200,300,400,500,600,700,800,900,1000,2000,3000,4000,5000,6000,7000,8000,9000,10000], "labelExpr": "datum.value == 1 ? '10⁰' : datum.value == 10 ? '10¹' : datum.value == 100 ? '10²' : datum.value == 1000 ? '10³' : datum.value == 10000 ? '10⁴' : ''", "labelFlush": true, "labelOverlap": false, "labelFont": "Liberation Sans", "labelFontSize": 12, "labelColor": "#333", "labelPadding": 9, "domainColor": "black", "domainWidth": 2, "tickColor": "black", "tickSize": {"condition": {"test": "indexof([1,10,100,1000,10000], datum.value) >= 0", "value": 6}, "value": 3}, "tickWidth": {"condition": {"test": "indexof([1,10,100,1000,10000], datum.value) >= 0", "value": 2}, "value": 1}}},
    "y": {"field": "v", "type": "quantitative", "scale": {"domain": [0, 616], "nice": false}, "axis": {"title": null, "values": [0,40,80,120,160,200,240,280,320,360,400,440,480,520,560,600], "labelExpr": "datum.value % 200 === 0 ? datum.label : ''", "labelOverlap": false, "labelFont": "Liberation Sans", "labelFontSize": 10, "labelColor": "#444", "labelPadding": 2, "domainColor": "#777", "tickColor": "#222", "tickSize": {"condition": {"test": "datum.value % 200 === 0", "value": 8}, "value": 4}, "tickWidth": {"condition": {"test": "datum.value % 200 === 0", "value": 2}, "value": 1}}}
   }},
  {"data": {"name": "hist"}, "transform": [{"filter": "datum.p === 'Melmet 5'"}, {"fold": ["b"], "as": ["k", "v"]}], "mark": {"type": "line", "color": "#5bbbeb", "strokeWidth": 3},
   "encoding": {
    "x": {"field": "x", "type": "quantitative", "scale": {"type": "log", "domain": [1, 10000], "nice": false}, "axis": {"title": "225.28-Alexa Fluor 488", "titleFont": "Lato", "titleFontSize": 21, "titleFontWeight": "bold", "titleColor": "black", "titlePadding": 11, "values": [1,2,3,4,5,6,7,8,9,10,20,30,40,50,60,70,80,90,100,200,300,400,500,600,700,800,900,1000,2000,3000,4000,5000,6000,7000,8000,9000,10000], "labelExpr": "datum.value == 1 ? '10⁰' : datum.value == 10 ? '10¹' : datum.value == 100 ? '10²' : datum.value == 1000 ? '10³' : datum.value == 10000 ? '10⁴' : ''", "labelFlush": true, "labelOverlap": false, "labelFont": "Liberation Sans", "labelFontSize": 12, "labelColor": "#333", "labelPadding": 9, "domainColor": "black", "domainWidth": 2, "tickColor": "black", "tickSize": {"condition": {"test": "indexof([1,10,100,1000,10000], datum.value) >= 0", "value": 6}, "value": 3}, "tickWidth": {"condition": {"test": "indexof([1,10,100,1000,10000], datum.value) >= 0", "value": 2}, "value": 1}}},
    "y": {"field": "v", "type": "quantitative", "scale": {"domain": [0, 616], "nice": false}, "axis": {"title": null, "values": [0,40,80,120,160,200,240,280,320,360,400,440,480,520,560,600], "labelExpr": "datum.value % 200 === 0 ? datum.label : ''", "labelOverlap": false, "labelFont": "Liberation Sans", "labelFontSize": 10, "labelColor": "#444", "labelPadding": 2, "domainColor": "#777", "tickColor": "#222", "tickSize": {"condition": {"test": "datum.value % 200 === 0", "value": 8}, "value": 4}, "tickWidth": {"condition": {"test": "datum.value % 200 === 0", "value": 2}, "value": 1}}}
   }},
  {"data": {"values": [{"p": "Melmet 5", "num": "241.7"}]}, "mark": {"type": "text", "font": "Lato", "fontWeight": "bold", "fontSize": 20.5, "color": "black", "baseline": "middle"},
   "encoding": {"text": {"field": "p"},
    "x": {"datum": 38, "scale": {"type": "log", "domain": [1, 10000], "nice": false}, "axis": {"title": "225.28-Alexa Fluor 488", "titleFont": "Lato", "titleFontSize": 21, "titleFontWeight": "bold", "titleColor": "black", "titlePadding": 11, "values": [1,2,3,4,5,6,7,8,9,10,20,30,40,50,60,70,80,90,100,200,300,400,500,600,700,800,900,1000,2000,3000,4000,5000,6000,7000,8000,9000,10000], "labelExpr": "datum.value == 1 ? '10⁰' : datum.value == 10 ? '10¹' : datum.value == 100 ? '10²' : datum.value == 1000 ? '10³' : datum.value == 10000 ? '10⁴' : ''", "labelFlush": true, "labelOverlap": false, "labelFont": "Liberation Sans", "labelFontSize": 12, "labelColor": "#333", "labelPadding": 9, "domainColor": "black", "domainWidth": 2, "tickColor": "black", "tickSize": {"condition": {"test": "indexof([1,10,100,1000,10000], datum.value) >= 0", "value": 6}, "value": 3}, "tickWidth": {"condition": {"test": "indexof([1,10,100,1000,10000], datum.value) >= 0", "value": 2}, "value": 1}}},
    "y": {"datum": 564, "scale": {"domain": [0, 616], "nice": false}, "axis": {"title": null, "values": [0,40,80,120,160,200,240,280,320,360,400,440,480,520,560,600], "labelExpr": "datum.value % 200 === 0 ? datum.label : ''", "labelOverlap": false, "labelFont": "Liberation Sans", "labelFontSize": 10, "labelColor": "#444", "labelPadding": 2, "domainColor": "#777", "tickColor": "#222", "tickSize": {"condition": {"test": "datum.value % 200 === 0", "value": 8}, "value": 4}, "tickWidth": {"condition": {"test": "datum.value % 200 === 0", "value": 2}, "value": 1}}}
   }},
  {"data": {"values": [{"p": "Melmet 5", "num": "241.7"}]}, "mark": {"type": "text", "font": "Lato", "fontWeight": "bold", "fontSize": 21.5, "color": "black", "baseline": "middle"},
   "encoding": {"text": {"field": "num"},
    "x": {"datum": 3240, "scale": {"type": "log", "domain": [1, 10000], "nice": false}, "axis": {"title": "225.28-Alexa Fluor 488", "titleFont": "Lato", "titleFontSize": 21, "titleFontWeight": "bold", "titleColor": "black", "titlePadding": 11, "values": [1,2,3,4,5,6,7,8,9,10,20,30,40,50,60,70,80,90,100,200,300,400,500,600,700,800,900,1000,2000,3000,4000,5000,6000,7000,8000,9000,10000], "labelExpr": "datum.value == 1 ? '10⁰' : datum.value == 10 ? '10¹' : datum.value == 100 ? '10²' : datum.value == 1000 ? '10³' : datum.value == 10000 ? '10⁴' : ''", "labelFlush": true, "labelOverlap": false, "labelFont": "Liberation Sans", "labelFontSize": 12, "labelColor": "#333", "labelPadding": 9, "domainColor": "black", "domainWidth": 2, "tickColor": "black", "tickSize": {"condition": {"test": "indexof([1,10,100,1000,10000], datum.value) >= 0", "value": 6}, "value": 3}, "tickWidth": {"condition": {"test": "indexof([1,10,100,1000,10000], datum.value) >= 0", "value": 2}, "value": 1}}},
    "y": {"datum": 495, "scale": {"domain": [0, 616], "nice": false}, "axis": {"title": null, "values": [0,40,80,120,160,200,240,280,320,360,400,440,480,520,560,600], "labelExpr": "datum.value % 200 === 0 ? datum.label : ''", "labelOverlap": false, "labelFont": "Liberation Sans", "labelFontSize": 10, "labelColor": "#444", "labelPadding": 2, "domainColor": "#777", "tickColor": "#222", "tickSize": {"condition": {"test": "datum.value % 200 === 0", "value": 8}, "value": 4}, "tickWidth": {"condition": {"test": "datum.value % 200 === 0", "value": 2}, "value": 1}}}
   }}
 ]}
], "spacing": 37}
], "spacing": 60}
]
}
